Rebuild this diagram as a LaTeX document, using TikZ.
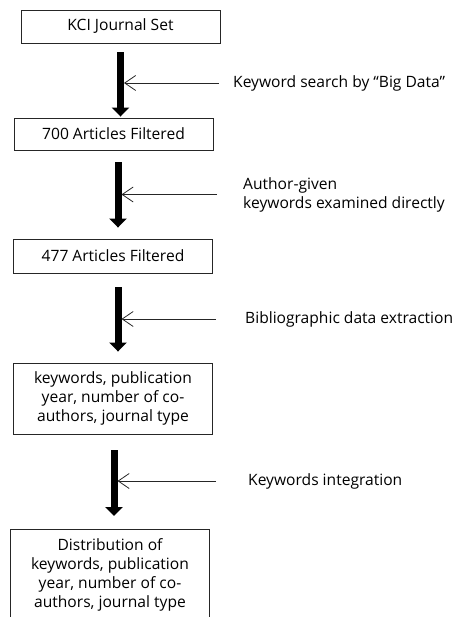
\documentclass[tikz,border=0pt]{standalone}
\usepackage{fontspec}
\setmainfont{Open Sans}
\usepackage{tikz}
\usetikzlibrary{positioning,arrows.meta,calc}

\tikzset{
  stepbox/.style={draw=black!85, line width=0.9pt, minimum width=199pt, align=center, inner sep=2pt},
  flow/.style={line width=7pt, -{Triangle[length=9pt,width=17pt]}},
  feed/.style={line width=0.8pt, black!85, -{Straight Barb[length=11pt,width=15pt]}},
  note/.style={anchor=west, align=left, inner sep=0pt}
}

\begin{document}
\begin{tikzpicture}[x=1pt, y=-1pt, font=\fontsize{15.6}{19}\selectfont]
\clip (0,0) rectangle (456,617);
% ---- boxes ----
\node[stepbox, minimum height=33pt] (b1) at (120.5,26.5) {KCI Journal Set};
\node[stepbox, minimum height=32pt] (b2) at (113.5,134) {700 Articles Filtered};
\node[stepbox, minimum height=34pt] (b3) at (113,256) {477 Articles Filtered};
\node[stepbox, minimum height=71pt] (b4) at (113,398.5) {keywords, publication\\year, number of co-\\authors, journal type};
\node[stepbox, minimum height=90pt, anchor=north] (b5) at (110,529) {Distribution of\\keywords, publication\\year, number of co-\\authors, journal type};
% ---- main flow ----
\draw[flow, shorten <=9pt, shorten >=1pt] (b1.south) -- (b1.south |- b2.north);
\draw[flow, shorten <=12pt, shorten >=11pt] ([xshift=4.5pt]b2.south) -- ([xshift=4.5pt]b2.south |- b3.north);
\draw[flow, shorten <=14pt, shorten >=11pt] ([xshift=5pt]b3.south) -- ([xshift=5pt]b3.south |- b4.north);
\draw[flow, shorten <=16pt, shorten >=13pt] ([xshift=1pt]b4.south) -- ([xshift=1pt]b4.south |- b5.north);
% ---- side steps ----
\node[note] (l1) at (233,83) {Keyword search by ``Big Data''};
\node[note] (l2) at (243,194.5) {Author-given\\keywords examined directly};
\node[note] (l3) at (245,319) {Bibliographic data extraction};
\node[note] (l4) at (248,481) {Keywords integration};
\draw[feed] ([xshift=-14pt]l1.west) -- ([xshift=3.5pt]l1.west -| b1.south);
\draw[feed] ([xshift=-26pt]l2.west) -- ([xshift=8pt]l2.west -| b2.south);
\draw[feed] ([xshift=-29pt]l3.west) -- ([xshift=8.5pt]l3.west -| b3.south);
\draw[feed] ([xshift=-32pt]l4.west) -- ([xshift=4.5pt]l4.west -| b4.south);
\end{tikzpicture}
\end{document}
